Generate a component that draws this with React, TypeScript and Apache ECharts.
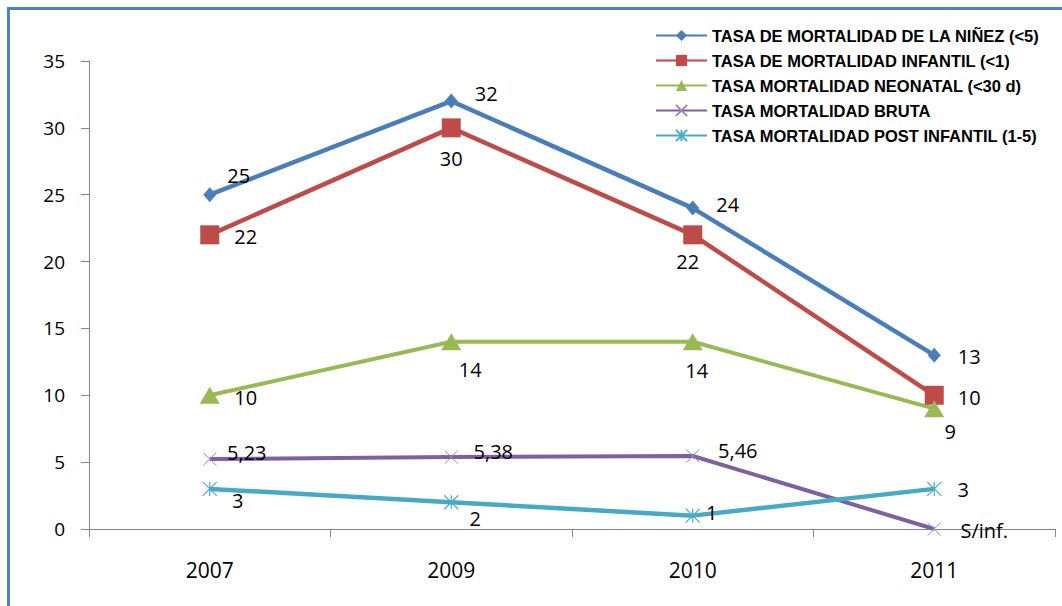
import React, { useEffect, useRef } from "react";
import * as echarts from "echarts";

const categories = ["2007", "2009", "2010", "2011"];
const ninez = [25, 32, 24, 13];
const infantil = [22, 30, 22, 10];
const neonatal = [10, 14, 14, 9];
const bruta = [5.23, 5.38, 5.46, 0];
const brutaSinInfo = [false, false, false, true];
const postInfantil = [3, 2, 1, 3];
const seriesNames = [
  "TASA DE MORTALIDAD DE LA NIÑEZ (<5)",
  "TASA DE MORTALIDAD INFANTIL (<1)",
  "TASA MORTALIDAD NEONATAL (<30 d)",
  "TASA MORTALIDAD BRUTA",
  "TASA MORTALIDAD POST INFANTIL (1-5)",
];
const NO_INFO = "S/inf.";
const yMin = 0;
const yMax = 35;
const yStep = 5;

export default function App() {
  const ref = useRef<HTMLDivElement>(null);
  useEffect(() => {
    const chart = echarts.init(ref.current!, null, { renderer: "svg" });
    const fmtNum = (v: number) => String(v).replace(".", ",");
    const labelBase = {
      show: true,
      position: "inside",
      color: "#000",
      fontSize: 20,
      fontFamily: "Open Sans",
    };
    const mk = (
      name: string,
      values: number[],
      color: string,
      symbol: string,
      symbolSize: any,
      offsets: number[][],
      itemStyle: any,
      lineWidth: number,
      formatter?: (p: any) => string
    ) => ({
      type: "line",
      name,
      data: values.map((v, i) => ({ value: v, label: { offset: offsets[i] } })),
      symbol,
      symbolSize,
      showAllSymbol: true,
      color,
      lineStyle: { color, width: lineWidth },
      itemStyle,
      label: { ...labelBase, formatter: formatter || ((p: any) => fmtNum(p.value)) },
      emphasis: { disabled: true },
    });

    chart.setOption({
      animation: false,
      textStyle: { fontFamily: "Open Sans" },
      grid: { left: 89, right: 7, top: 61, bottom: 77, containLabel: false },
      graphic: [
        {
          type: "line",
          shape: { x1: 8.5, y1: 7, x2: 8.5, y2: 606 },
          style: { stroke: "#4F81BD", lineWidth: 3 },
        },
        {
          type: "line",
          shape: { x1: 7, y1: 8.5, x2: 1062, y2: 8.5 },
          style: { stroke: "#4F81BD", lineWidth: 3 },
        },
      ],
      legend: {
        orient: "vertical",
        left: 655,
        top: 27,
        padding: 0,
        itemWidth: 51,
        itemHeight: 14,
        itemGap: 8,
        selectedMode: false,
        textStyle: {
          color: "#000",
          fontSize: 16.5,
          fontWeight: "bold",
          fontFamily: "Liberation Sans",
        },
        data: seriesNames,
      },
      xAxis: {
        type: "category",
        data: categories,
        boundaryGap: true,
        axisLine: { lineStyle: { color: "#868686", width: 1 } },
        axisTick: { show: true, length: 8, lineStyle: { color: "#868686" } },
        axisLabel: { color: "#000", fontSize: 21, margin: 30, fontFamily: "Open Sans" },
        splitLine: { show: false },
      },
      yAxis: {
        type: "value",
        min: yMin,
        max: yMax,
        interval: yStep,
        axisLine: { show: true, lineStyle: { color: "#868686", width: 1 } },
        axisTick: { show: true, length: 8, lineStyle: { color: "#868686" } },
        axisLabel: { color: "#000", fontSize: 19, margin: 24, fontFamily: "Open Sans" },
        splitLine: { show: false },
      },
      series: [
        mk(seriesNames[0], ninez, "#4A7EBB", "diamond", [13, 15],
          [[29, -19], [35, -8], [35, -4], [35, 1]],
          { color: "#4A7EBB" }, 4.5),
        mk(seriesNames[1], infantil, "#BE4B48", "rect", 19,
          [[36, 2], [0, 31], [-5, 27], [35, 2]],
          { color: "#BE4B48" }, 4.5),
        mk(seriesNames[2], neonatal, "#98B954", "triangle", [20, 17],
          [[36, 2], [19, 28], [4, 29], [16, 23]],
          { color: "#98B954" }, 4),
        mk(seriesNames[3], bruta, "#7D60A0", "path://M0,0L10,10M10,0L0,10", 13,
          [[37, -7], [42, -6], [45, -5], [50, 1]],
          { color: "rgba(0,0,0,0)", borderColor: "#9A85BE", borderWidth: 1 }, 4,
          (p: any) => (brutaSinInfo[p.dataIndex] ? NO_INFO : fmtNum(p.value))),
        mk(seriesNames[4], postInfantil, "#46AAC5", "path://M0,0L10,10M10,0L0,10M5,0L5,10", 14,
          [[28, 12], [24, 16], [19, -3], [29, 1]],
          { color: "rgba(0,0,0,0)", borderColor: "#4BACC6", borderWidth: 1.2 }, 4.5),
      ],
    });
    return () => chart.dispose();
  }, []);
  return (
    <div
      ref={ref}
      style={{ position: "fixed", left: 0, top: 0, width: 1062, height: 606, background: "#fff" }}
    />
  );
}
